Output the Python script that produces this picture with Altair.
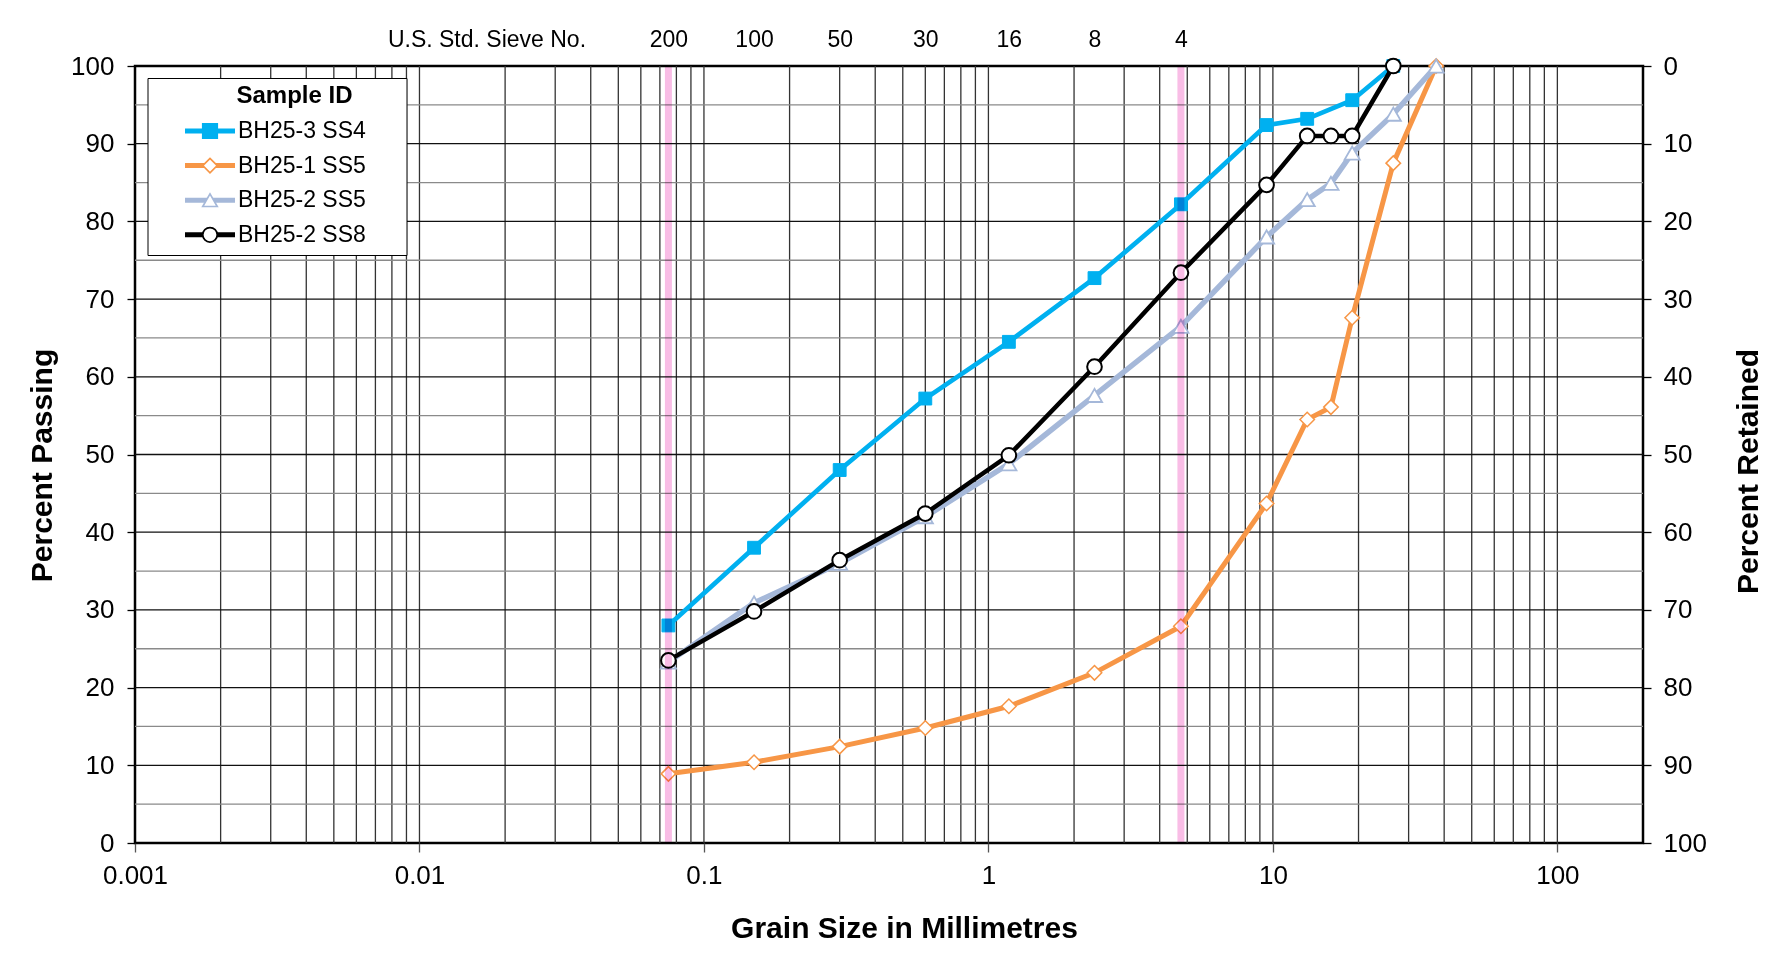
import altair as alt
import pandas as pd

# ---------------- data ----------------
series_names = ["BH25-3 SS4", "BH25-1 SS5", "BH25-2 SS5", "BH25-2 SS8"]
series_keys = ["a", "b", "c", "d"]
series_colors = ["#00B0F0", "#F79646", "#A5B8D9", "#000000"]
marker_shapes = ["square", "diamond", "triangle-up", "circle"]
marker_fills = ["#00B0F0", "#FFFFFF", "#FFFFFF", "#FFFFFF"]
line_widths = [4.7, 5.0, 5.5, 4.5]
marker_sizes = [165, 210, 230, 215]
marker_stroke_widths = [1.0, 1.5, 1.8, 2.0]

bh25_3_ss4_size = [0.075, 0.15, 0.3, 0.6, 1.18, 2.36, 4.75, 9.5, 13.2, 19, 26.5]
bh25_3_ss4_pass = [28.0, 38.0, 48.0, 57.2, 64.5, 72.7, 82.2, 92.4, 93.2, 95.6, 100]

bh25_1_ss5_size = [0.075, 0.15, 0.3, 0.6, 1.18, 2.36, 4.75, 9.5, 13.2, 16, 19, 26.5, 37.5]
bh25_1_ss5_pass = [8.9, 10.4, 12.4, 14.8, 17.6, 21.9, 27.9, 43.7, 54.5, 56.1, 67.6, 87.5, 100]

bh25_2_ss5_size = [0.075, 0.15, 0.3, 0.6, 1.18, 2.36, 4.75, 9.5, 13.2, 16, 19, 26.5, 37.5]
bh25_2_ss5_pass = [23.3, 30.9, 36.0, 42.0, 48.8, 57.6, 66.5, 78.0, 82.8, 84.9, 88.8, 93.8, 100]

bh25_2_ss8_size = [0.075, 0.15, 0.3, 0.6, 1.18, 2.36, 4.75, 9.5, 13.2, 16, 19, 26.5]
bh25_2_ss8_pass = [23.5, 29.8, 36.4, 42.4, 49.9, 61.3, 73.4, 84.7, 91.0, 91.0, 91.0, 100]

series_sizes = [bh25_3_ss4_size, bh25_1_ss5_size, bh25_2_ss5_size, bh25_2_ss8_size]
series_pass = [bh25_3_ss4_pass, bh25_1_ss5_pass, bh25_2_ss5_pass, bh25_2_ss8_pass]

sieve_sizes = [0.075, 0.15, 0.3, 0.6, 1.18, 2.36, 4.75]
sieve_numbers = ["200", "100", "50", "30", "16", "8", "4"]
sieve_caption = "U.S. Std. Sieve No."
sieve_caption_pos = 0.0172
highlight_sieves = [0.075, 4.75]

x_label_values = [0.001, 0.01, 0.1, 1, 10, 100]
x_grid_values = [m * 10.0 ** e for e in range(-3, 3) for m in range(1, 10)
                 if 0.001 < m * 10.0 ** e < 200]
y_label_values = list(range(0, 101, 10))
y_major_grid = list(range(10, 100, 10))
y_minor_grid = list(range(5, 100, 10))

# ---------------- styling ----------------
FONT = "Liberation Sans"
W, H = 1508, 777
BLANK = "\u2800"  # blank glyph (not trimmed) used as spacer in the legend
legend_title = BLANK * 2 + "Sample ID"

xs = alt.Scale(type="log", domain=[0.001, 200], nice=False)
ys = alt.Scale(domain=[0, 100], nice=False, zero=False)


def xenc(field, axis=None):
    return alt.X(field, type="quantitative", scale=xs, axis=axis)


def yenc(field, axis=None):
    return alt.Y(field, type="quantitative", scale=ys, axis=axis)


bottom_axis = alt.Axis(
    orient="bottom", values=x_label_values, format="~g",
    labelFont=FONT, labelFontSize=26, labelColor="black", labelPadding=23,
    labelBaseline="middle", labelFlush=False, labelOverlap=False, labelBound=False,
    tickSize=9, tickColor="#555555", tickWidth=1.3, domain=False, grid=False,
    title="Grain Size in Millimetres", titleFont=FONT, titleFontSize=30,
    titleFontWeight="bold", titleColor="black", titleX=769, titleY=85,
    titleBaseline="middle",
)
left_axis = alt.Axis(
    orient="left", values=y_label_values,
    labelFont=FONT, labelFontSize=26, labelColor="black", labelPadding=13,
    tickSize=8, tickColor="black", tickWidth=1.3, domain=False, grid=False,
    title="Percent Passing", titleFont=FONT, titleFontSize=30,
    titleFontWeight="bold", titleColor="black", titleAngle=270,
    titleX=-93, titleY=399, titleBaseline="middle", titleAlign="center",
)
right_axis = alt.Axis(
    orient="right", values=y_label_values, labelExpr="format(100 - datum.value, 'd')",
    labelFont=FONT, labelFontSize=26, labelColor="black", labelPadding=12,
    tickSize=8, tickColor="black", tickWidth=1.3, domain=False, grid=False,
    title="Percent Retained", titleFont=FONT, titleFontSize=30,
    titleFontWeight="bold", titleColor="black", titleAngle=270,
    titleX=105.5, titleY=405, titleBaseline="middle", titleAlign="center",
)

top_expr = "'" + sieve_caption + "'"
for v, lab in reversed(list(zip(sieve_sizes, sieve_numbers))):
    top_expr = f"datum.value == {v} ? '{lab}' : ({top_expr})"

top_axis = alt.Axis(
    orient="top", values=[sieve_caption_pos] + sieve_sizes, labelExpr=top_expr,
    labelFont=FONT, labelFontSize=23, labelColor="black", labelPadding=27,
    labelBaseline="middle", labelFlush=False, labelOverlap=False, labelBound=False,
    labelLimit=600, ticks=False, tickSize=0, domain=False, grid=False, title="",
)

common_legend = dict(
    orient="none", legendX=12.5, padding=6,
    clipHeight=28, rowPadding=6.6, titlePadding=9,
    labelFont=FONT, labelFontSize=23, labelColor="black", labelLimit=600,
    titleFont=FONT, titleFontSize=24, titleFontWeight="bold", titleColor="black",
    titleAnchor="middle", titleLimit=600, labelOffset=0.5,
)
legend_a = alt.Legend(
    title=legend_title, legendY=12,
    symbolType="stroke", symbolSize=2500, symbolStrokeWidth=5,
    symbolOffset=29, strokeColor="black", fillColor="white",
    labelExpr="datum.label + '" + BLANK * 2 + "'",
    **common_legend,
)
legend_b = alt.Legend(
    title=None, legendY=45,
    symbolSize=210, symbolStrokeWidth=1.7, symbolOffset=45,
    labelExpr="''",
    **common_legend,
)

color_scale = alt.Scale(domain=series_names, range=series_colors)
fill_scale = alt.Scale(domain=series_keys, range=marker_fills)
stroke_scale = alt.Scale(domain=series_keys, range=series_colors)
shape_scale = alt.Scale(domain=series_keys, range=marker_shapes)

# ---------------- layers ----------------
vgrid = alt.Chart(pd.DataFrame({"g": x_grid_values})).mark_rule(
    color="#333333", strokeWidth=1.3).encode(x=xenc("g"))
hgrid_minor = alt.Chart(pd.DataFrame({"g": y_minor_grid})).mark_rule(
    color="#8a8a8a", strokeWidth=1.3).encode(y=yenc("g"))
hgrid_major = alt.Chart(pd.DataFrame({"g": y_major_grid})).mark_rule(
    color="#111111", strokeWidth=1.3).encode(y=yenc("g"))

layers = [vgrid, hgrid_minor, hgrid_major]
for i, name in enumerate(series_names):
    df = pd.DataFrame({
        "size": series_sizes[i],
        "passing": series_pass[i],
        "series": name,
        "key": series_keys[i],
    })
    if i == 0:
        xa, ya = bottom_axis, left_axis
    else:
        xa, ya = None, None
    line = alt.Chart(df).mark_line(strokeWidth=line_widths[i]).encode(
        x=xenc("size", xa), y=yenc("passing", ya),
        color=alt.Color("series:N", scale=color_scale, legend=legend_a),
    )
    pts = alt.Chart(df).mark_point(
        filled=True, size=marker_sizes[i], strokeWidth=marker_stroke_widths[i], opacity=1
    ).encode(
        x=xenc("size"), y=yenc("passing"),
        shape=alt.Shape("key:N", scale=shape_scale, legend=legend_b),
        fill=alt.Fill("key:N", scale=fill_scale, legend=legend_b),
        stroke=alt.Stroke("key:N", scale=stroke_scale, legend=legend_b),
    )
    layers += [line, pts]

pink = alt.Chart(pd.DataFrame({"s": highlight_sieves})).mark_rule(
    color="#F9BDE6", strokeWidth=7, blend="multiply").encode(x=xenc("s"))
layers.append(pink)

axes_layer = alt.Chart(pd.DataFrame({"s": sieve_sizes, "p": [50] * len(sieve_sizes)})).mark_point(
    opacity=0).encode(x=xenc("s", top_axis), y=yenc("p", right_axis))
layers.append(axes_layer)

chart = alt.layer(*layers).resolve_axis(x="independent", y="independent").properties(
    width=W, height=H,
    padding={"left": 127, "top": 58, "right": 128, "bottom": 100},
    autosize=alt.AutoSizeParams(type="none"),
    background="white",
).configure_view(stroke="black", strokeWidth=2.5)

chart.save("out.html", embed_options={"renderer": "svg", "actions": False})
